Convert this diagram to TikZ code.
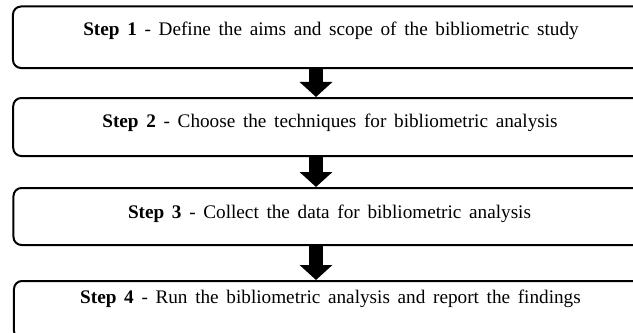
\documentclass[tikz,border=0pt]{standalone}
\usepackage{fontspec}
\setmainfont{Liberation Serif}[WordSpace=1.6]
\usetikzlibrary{arrows.meta}

\tikzset{
	stepbox/.style={draw, line width=0.06cm, rounded corners=0.24cm, minimum width=19.11cm, inner sep=0pt},
	steptext/.style={anchor=base, inner sep=0pt, font=\fontsize{16.4}{20}\selectfont},
	downarrow/.style={line width=0.42cm, -{Triangle[width=0.96cm,length=0.45cm]}}
}

\begin{document}
\begin{tikzpicture}[x=0.03cm,y=-0.03cm]
		\clip (0,0) rectangle (633,333);
		\node[stepbox, minimum height=1.845cm] (step1) at (331.5,37.25) {};
		\node[stepbox, minimum height=1.74cm] (step2) at (331.75,127) {};
		\node[stepbox, minimum height=1.71cm] (step3) at (332,216.5) {};
		\node[stepbox, minimum height=1.74cm] (step4) at (332.5,310) {};
		\node[steptext] (text1) at (331,35) {\textbf{Step 1} - Define the aims and scope of the bibliometric study};
		\node[steptext] (text2) at (330,127.5) {\textbf{Step 2} - Choose the techniques for bibliometric analysis};
		\node[steptext] (text3) at (329.5,218.5) {\textbf{Step 3} - Collect the data for bibliometric analysis};
		\node[steptext] (text4) at (330.5,303.5) {\textbf{Step 4} - Run the bibliometric analysis and report the findings};
		\coordinate (mid) at (316,0);
		\draw[downarrow] (step1.south -| mid) -- (step2.north -| mid);
		\draw[downarrow] (step2.south -| mid) -- (step3.north -| mid);
		\draw[downarrow] (step3.south -| mid) -- (step4.north -| mid);
		\end{tikzpicture}
\end{document}
